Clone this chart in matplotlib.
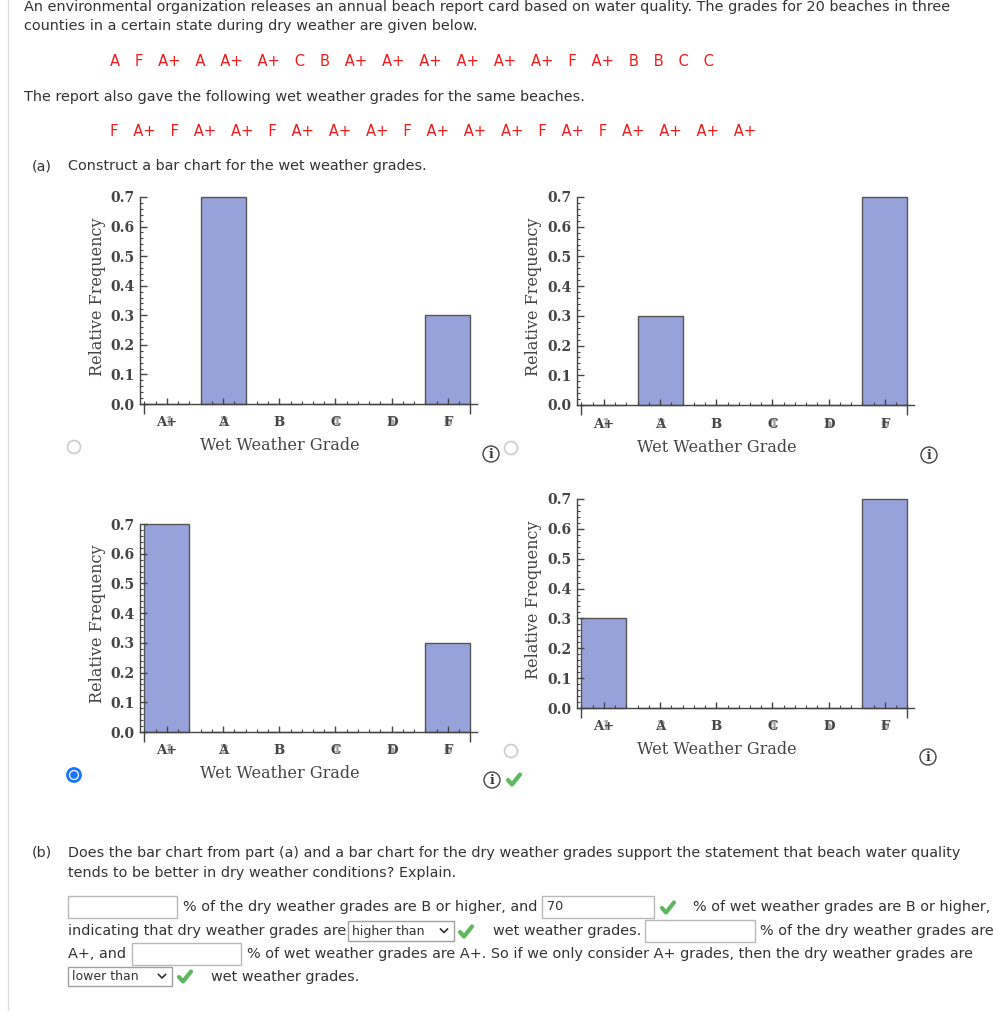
import numpy as np
import matplotlib.pyplot as plt
from matplotlib.patches import Circle, Rectangle
from matplotlib.ticker import MultipleLocator

W, H = 1007, 1024

# chart data
grades = ['A+', 'A', 'B', 'C', 'D', 'F']
grade_codes = ['1', '2', '3', '4', '5', '6']
y_ticks = [0.0, 0.1, 0.2, 0.3, 0.4, 0.5, 0.6, 0.7]
freq_tl = [0.0, 0.7, 0.0, 0.0, 0.0, 0.3]
freq_tr = [0.0, 0.3, 0.0, 0.0, 0.0, 0.7]
freq_bl = [0.7, 0.0, 0.0, 0.0, 0.0, 0.3]
freq_br = [0.3, 0.0, 0.0, 0.0, 0.0, 0.7]

dry_grades = ['A', 'F', 'A+', 'A', 'A+', 'A+', 'C', 'B', 'A+', 'A+',
              'A+', 'A+', 'A+', 'A+', 'F', 'A+', 'B', 'B', 'C', 'C']
wet_grades = ['F', 'A+', 'F', 'A+', 'A+', 'F', 'A+', 'A+', 'A+', 'F',
              'A+', 'A+', 'A+', 'F', 'A+', 'F', 'A+', 'A+', 'A+', 'A+']

TXT = '#333333'
SANS = 'DejaVu Sans'
SERIF = 'DejaVu Serif'
BAR = '#98a2da'
GREEN = '#5cb85c'
AXC = '#444444'
FS = 10.35

fig = plt.figure(figsize=(W / 100, H / 100), dpi=100)
fig.patch.set_facecolor('white')

# page layer in pixel coordinates
bg = fig.add_axes([0, 0, 1, 1])
bg.set_xlim(0, W)
bg.set_ylim(H, 0)
bg.axis('off')

bg.plot([8, 8], [0, 1010], color='#dddddd', lw=1)


def txt(x, y, s, size=FS, color=TXT, **kw):
    bg.text(x, y, s, fontsize=size, color=color, family=SANS, va='center', ha='left', **kw)


def box(x0, y0, x1, y1, label=None):
    bg.add_patch(Rectangle((x0, y0), x1 - x0, y1 - y0, fc='white', ec='#b8b8b8', lw=1))
    if label:
        txt(x0 + 5, (y0 + y1) / 2, label, size=9.2)


def dropdown(x0, y0, x1, y1, label):
    bg.add_patch(Rectangle((x0, y0), x1 - x0, y1 - y0, fc='white', ec='#a0a0a0', lw=1))
    txt(x0 + 4, (y0 + y1) / 2, label, size=9)
    cx, cy = x1 - 10, (y0 + y1) / 2
    bg.plot([cx - 3.5, cx, cx + 3.5], [cy - 2, cy + 1.5, cy - 2], color='#333333', lw=1.2)


def check(x, y):
    bg.plot([x - 6, x - 2, x + 6], [y, y + 4.5, y - 5.5], color=GREEN, lw=3,
            solid_capstyle='round', solid_joinstyle='round')


def info(x, y):
    bg.add_patch(Circle((x, y), 8, fc='white', ec=AXC, lw=1))
    bg.text(x, y + 0.5, 'i', fontsize=9, family=SERIF, weight='bold', color='#333333',
            ha='center', va='center')


def radio(x, y, selected=False):
    if selected:
        bg.add_patch(Circle((x, y), 6.5, fc='white', ec='#1a73ff', lw=2))
        bg.add_patch(Circle((x, y), 3.8, fc='#1a73ff', ec='none'))
    else:
        bg.add_patch(Circle((x, y), 6.5, fc='white', ec='#cccccc', lw=1.2))


# question text
txt(24, 7, 'An environmental organization releases an annual beach report card based on water quality. '
           'The grades for 20 beaches in three')
txt(24, 26, 'counties in a certain state during dry weather are given below.')
sep = '\u2002\u2002'
txt(110, 62, sep.join(dry_grades), size=10.6, color='#f01c1c')
txt(24, 97, 'The report also gave the following wet weather grades for the same beaches.')
txt(110, 131, sep.join(wet_grades), size=10.6, color='#f01c1c')
txt(32, 166, '(a)')
txt(68, 166, 'Construct a bar chart for the wet weather grades.')

# four candidate bar charts: freq, left, right, top(0.7), bottom(0.0) in px
panels = [
    (freq_tl, 140, 477, 197, 404),
    (freq_tr, 577, 914, 197, 405),
    (freq_bl, 140, 477, 524, 732),
    (freq_br, 577, 914, 499, 708),
]

x = np.arange(len(grades))
for freq, l, r, t, b in panels:
    ax = fig.add_axes([l / W, 1 - b / H, (r - l) / W, (b - t) / H])
    ax.bar(x, freq, width=0.8, color=BAR, edgecolor='#555555', linewidth=1, clip_on=False)
    ax.set_xlim(-0.48, 5.52)
    ax.set_ylim(0, 0.7)
    for s in ['top', 'right']:
        ax.spines[s].set_visible(False)
    for s in ['left', 'bottom']:
        ax.spines[s].set_color(AXC)
        ax.spines[s].set_linewidth(1)
    ax.set_yticks(y_ticks)
    ax.set_yticklabels(['%.1f' % v for v in y_ticks], family=SERIF, fontsize=10, color=AXC,
                       weight='semibold')
    ax.yaxis.set_minor_locator(MultipleLocator(0.02))
    ax.xaxis.set_minor_locator(MultipleLocator(0.2))
    ax.set_xticks(x)
    ax.set_xticklabels([])
    ax.tick_params(axis='y', which='major', direction='in', length=5, width=1, color=AXC, pad=4)
    ax.tick_params(axis='y', which='minor', direction='in', length=2.5, width=0.8, color=AXC)
    ax.tick_params(axis='x', which='major', direction='in', length=4, width=1, color=AXC)
    ax.tick_params(axis='x', which='minor', direction='in', length=2.5, width=0.8, color=AXC)
    # grade labels with the overlapping index glyphs seen in the picture
    ly = -19 / (b - t)
    for i, g in enumerate(grades):
        ax.text(x[i], ly, g, transform=ax.get_xaxis_transform(), family=SERIF, fontsize=9.5,
                weight='bold', color=AXC, ha='center', va='center')
        ax.text(x[i] + (0.04 if i == 0 else 0), ly, grade_codes[i], transform=ax.get_xaxis_transform(),
                family=SERIF, fontsize=9, weight='bold', color='#555555', ha='center', va='center',
                alpha=0.55)
    sec = ax.secondary_xaxis('bottom')
    sec.set_xticks([-0.4, 5.4])
    sec.set_xticklabels(['', ''])
    sec.tick_params(direction='out', length=7, width=1, color=AXC)
    sec.spines['bottom'].set_visible(False)
    ax.set_xlabel('Wet Weather Grade', family=SERIF, fontsize=11.5, color=AXC)
    ax.set_ylabel('Relative Frequency', family=SERIF, fontsize=11.5, color=AXC)
    ax.xaxis.set_label_coords(140 / 337, -42 / (b - t))
    ax.xaxis.label.set_va('center')
    ax.yaxis.set_label_coords(-43 / 337, 0.52)
    ax.yaxis.label.set_va('center')

radio(74, 447)
info(491, 454)
radio(511, 448)
info(929, 455)
radio(74, 775, selected=True)
radio(511, 751)
info(492, 780)
check(514, 780)
info(928, 757)

# part (b)
txt(32, 853, '(b)')
txt(68, 853, 'Does the bar chart from part (a) and a bar chart for the dry weather grades support the '
             'statement that beach water quality')
txt(68, 873, 'tends to be better in dry weather conditions? Explain.')

box(68, 896, 177, 918)
txt(183, 907, '% of the dry weather grades are B or higher, and')
box(542, 896, 654, 918, '70')
check(668, 908)
txt(693, 907, '% of wet weather grades are B or higher,')

txt(68, 931, 'indicating that dry weather grades are')
dropdown(348, 921, 454, 941, 'higher than')
check(466, 932)
txt(493, 931, 'wet weather grades.')
box(645, 920, 755, 942)
txt(760, 931, '% of the dry weather grades are')

txt(68, 954, 'A+, and')
box(132, 943, 241, 965)
txt(247, 954, '% of wet weather grades are A+. So if we only consider A+ grades, then the dry weather grades are')

dropdown(68, 967, 172, 986, 'lower than')
check(185, 977)
txt(211, 977, 'wet weather grades.')

fig.savefig('out.png', dpi=100)
